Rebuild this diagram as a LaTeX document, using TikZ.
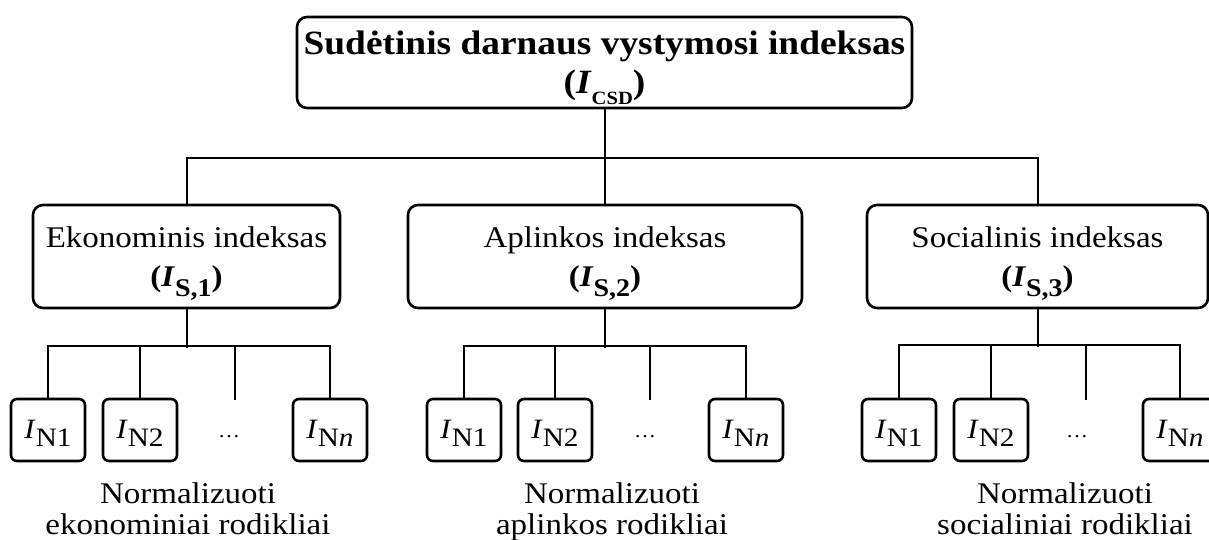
\documentclass[tikz,border=0pt]{standalone}
\usepackage{graphicx}
\usepackage{fontspec}
\setmainfont{Liberation Serif}[FakeStretch=1.1]
\usetikzlibrary{positioning}
\tikzset{box/.style = {
  rectangle, draw=black,
  line width=1.3pt, rounded corners=5pt,
  inner sep=0pt, align=center
  }}
\tikzset{top/.style = {
  box,
  minimum width=307.5pt, minimum height=45.5pt,
  text depth=-3pt,
  font=\fontsize{17}{19.5}\selectfont\bfseries
  }}
\tikzset{group/.style = {
  box,
  minimum height=51.5pt,
  text depth=0pt,
  font=\fontsize{15}{19.5}\selectfont
  }}
\tikzset{leaf/.style = {
  box, rounded corners=3pt,
  minimum width=37pt, minimum height=31pt,
  text height=12.5pt,
  font=\fontsize{14}{16}\selectfont
  }}
\tikzset{link/.style = {line width=1pt}}
\tikzset{caption/.style = {
  align=center, inner sep=0pt, anchor=north,
  font=\fontsize{15}{15.5}\selectfont
  }}
\tikzset{gap/.style = {inner sep=0pt, anchor=base, font=\fontsize{10}{12}\selectfont}}
\newcommand{\lowsub}[2][1]{\raisebox{-0.32em}{\scalebox{#1}{#2}}}
\newcommand{\leafsym}[1]{\textit{I}\lowsub[0.95]{#1}}

\begin{document}
\begin{tikzpicture}[x=0.5pt, y=-0.5pt]
\useasboundingbox (0,0) rectangle (1209,540);

% NODES
\node (sdi) [top] at (604.5,62.5) {Sudėtinis darnaus vystymosi indeksas\\
  (\textit{I}\lowsub[0.55]{CSD})};

\node (eko) [group, minimum width=153.5pt] at (186.5,256.5) {Ekonominis indeksas\\
  \textbf{(\textit{I}\lowsub[0.85]{S,1})}};
\node (apl) [group, minimum width=197pt] at (605,256.5) {Aplinkos indeksas\\
  \textbf{(\textit{I}\lowsub[0.85]{S,2})}};
\node (soc) [group, minimum width=170.5pt] at (1037.5,256.5) {Socialinis indeksas\\
  \textbf{(\textit{I}\lowsub[0.85]{S,3})}};

% leaves
\node (e1) [leaf] at (48,430) {\leafsym{N1}};
\node (e2) [leaf] at (140,430) {\leafsym{N2}};
\node (edots) [gap] at (229,437) {\dots};
\node (en) [leaf] at (330,430) {\leafsym{N\textit{n}}};
\coordinate (estub) at (235,400);

\node (a1) [leaf] at (464,430) {\leafsym{N1}};
\node (a2) [leaf] at (555,430) {\leafsym{N2}};
\node (adots) [gap] at (645,437) {\dots};
\node (an) [leaf] at (746,430) {\leafsym{N\textit{n}}};
\coordinate (astub) at (650,400);

\node (s1) [leaf] at (899,430) {\leafsym{N1}};
\node (s2) [leaf] at (991,430) {\leafsym{N2}};
\node (sdots) [gap] at (1077,437) {\dots};
\node (sn) [leaf] at (1180,430) {\leafsym{N\textit{n}}};
\coordinate (sstub) at (1086,400);

% captions
\node (ecap) [caption] at (188,482) {Normalizuoti\\ekonominiai rodikliai};
\node (acap) [caption] at (612,482) {Normalizuoti\\aplinkos rodikliai};
\node (scap) [caption] at (1065,482) {Normalizuoti\\socialiniai rodikliai};

% lines
\draw [link] (sdi.south) -- (sdi.south |- apl.north);
\draw [link] (sdi.south) -- ++(0,49) -| (eko.north);
\draw [link] (sdi.south) -- ++(0,49) -| (soc.north);

\draw [link] (eko.south) -- ++(0,39);
\draw [link] (e1.north) -- ++(0,-52) -| (en.north);
\draw [link] (e2.north) -- ++(0,-52);
\draw [link] (estub) -- ++(0,-53);

\draw [link] (apl.south) -- ++(0,39);
\draw [link] (a1.north) -- ++(0,-52) -| (an.north);
\draw [link] (a2.north) -- ++(0,-52);
\draw [link] (astub) -- ++(0,-53);

\draw [link] (soc.south) -- ++(0,38);
\draw [link] (s1.north) -- ++(0,-53) -| (sn.north);
\draw [link] (s2.north) -- ++(0,-53);
\draw [link] (sstub) -- ++(0,-54);
\end{tikzpicture}
\end{document}
